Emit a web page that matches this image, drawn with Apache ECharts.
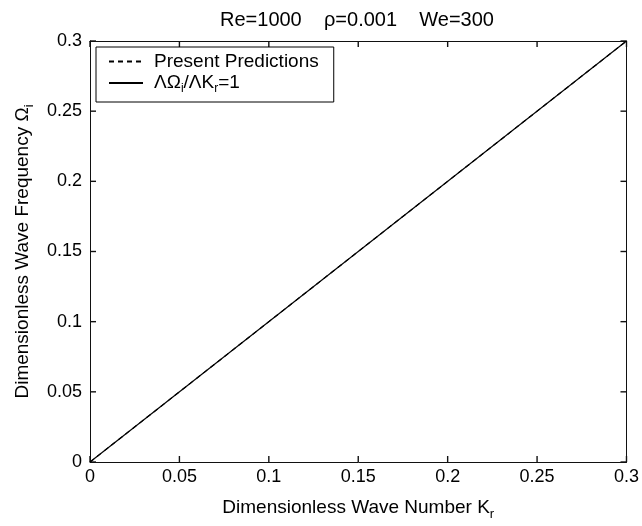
<!DOCTYPE html>
<html>
<head>
<meta charset="UTF-8">
<script src="https://cdn.jsdelivr.net/npm/echarts@6.0.0/dist/echarts.min.js"></script>
<style>
  html, body { margin: 0; padding: 0; background: #fff; }
  #main { width: 642px; height: 526px; }
</style>
</head>
<body>
<div id="main"></div>
<script>
// data
var waveNumber = [0, 0.3];
var predicted = [0, 0.3];      // Present Predictions
var unitSlope = [0, 0.3];      // dOmega/dK = 1
var tickValues = [0, 0.05, 0.1, 0.15, 0.2, 0.25, 0.3];

var FONT = 'Liberation Sans';
var TICK_LEN = 6;

function pairs(xs, ys) {
    return xs.map(function (x, i) { return [x, ys[i]]; });
}

var chart = echarts.init(document.getElementById('main'));

function makeAxis(extra) {
    var ax = {
        type: 'value',
        min: 0, max: 0.3, interval: 0.05,
        axisLine: { show: true, onZero: false, lineStyle: { color: '#111', width: 1 } },
        axisTick: { show: false },
        splitLine: { show: false },
        axisLabel: { color: '#000', fontFamily: FONT, fontSize: 18,
            formatter: function (v) { return String(+v.toFixed(2)); } }
    };
    return Object.assign(ax, extra);
}

var nameRich = {
    a: { fontFamily: FONT, fontSize: 19, color: '#000' },
    s: { fontFamily: FONT, fontSize: 13, color: '#000', padding: [14, 0, 0, 0] }
};

// inward ticks on all four sides of the box, placed through the axes
function renderTicks(params, api) {
    var v = api.value(0);
    var lo = tickValues[0], hi = tickValues[tickValues.length - 1];
    var pB = api.coord([v, lo]), pT = api.coord([v, hi]);
    var pL = api.coord([lo, v]), pR = api.coord([hi, v]);
    var st = { stroke: '#111', lineWidth: 1.4, fill: null };
    return {
        type: 'group',
        children: [
            { type: 'line', shape: { x1: pB[0], y1: pB[1], x2: pB[0], y2: pB[1] - TICK_LEN }, style: st },
            { type: 'line', shape: { x1: pT[0], y1: pT[1], x2: pT[0], y2: pT[1] + TICK_LEN }, style: st },
            { type: 'line', shape: { x1: pL[0], y1: pL[1], x2: pL[0] + TICK_LEN, y2: pL[1] }, style: st },
            { type: 'line', shape: { x1: pR[0], y1: pR[1], x2: pR[0] - TICK_LEN, y2: pR[1] }, style: st }
        ]
    };
}

var option = {
    backgroundColor: '#fff',
    animation: false,
    title: {
        text: 'Re=1000    \u03c1=0.001    We=300',
        left: 357, top: 10, textAlign: 'center', padding: 0,
        textStyle: { color: '#000', fontFamily: FONT, fontSize: 20, fontWeight: 'normal' }
    },
    grid: { left: 90, right: 13, top: 41, bottom: 60 },
    legend: {
        left: 96, top: 47, orient: 'vertical',
        itemWidth: 34, itemHeight: 12, itemGap: 0,
        padding: [5, 15, 7, 12],
        borderColor: '#000', borderWidth: 1, borderRadius: 0,
        backgroundColor: '#fff',
        itemStyle: { opacity: 0 },
        data: ['pred', 'slope'],
        formatter: function (name) {
            if (name === 'pred') return '{f|Present Predictions}';
            return '{f|\u039b\u03a9}{s|i}{a|/\u039bK}{s|r}{a|=1}';
        },
        textStyle: {
            color: '#000', fontFamily: FONT, fontSize: 19,
            rich: {
                f: { fontFamily: FONT, fontSize: 19, color: '#000', lineHeight: 20, padding: [0, 0, 0, 6] },
                a: { fontFamily: FONT, fontSize: 19, color: '#000', lineHeight: 20 },
                s: { fontFamily: FONT, fontSize: 12, color: '#000', lineHeight: 20, padding: [12, 0, 0, 0] }
            }
        }
    },
    xAxis: [
        makeAxis({
            position: 'bottom',
            name: '{a|Dimensionless Wave Number K}{s|r}',
            nameLocation: 'middle', nameGap: 32,
            nameTextStyle: { color: '#000', fontFamily: FONT, fontSize: 19, rich: nameRich }
        }),
        makeAxis({ position: 'top', axisLabel: { show: false } })
    ],
    yAxis: [
        makeAxis({
            position: 'left',
            name: '{a|Dimensionless Wave Frequency \u03a9}{s|i}',
            nameLocation: 'middle', nameGap: 40,
            nameTextStyle: { color: '#000', fontFamily: FONT, fontSize: 19, rich: nameRich }
        }),
        makeAxis({ position: 'right', axisLabel: { show: false } })
    ],
    series: [
        {
            name: 'ticks', type: 'custom', silent: true, clip: false,
            encode: { x: 0, y: 1 },
            data: tickValues.map(function (t) { return [t, t]; }),
            renderItem: renderTicks,
            z: 3
        },
        {
            name: 'slope', type: 'line', symbol: 'none',
            data: pairs(waveNumber, unitSlope),
            itemStyle: { color: '#000' },
            lineStyle: { color: '#000', width: 1.2, type: 'solid' }
        },
        {
            name: 'pred', type: 'line', symbol: 'none',
            data: pairs(waveNumber, predicted),
            itemStyle: { color: '#000' },
            lineStyle: { color: '#000', width: 1.2, type: [5, 4] }
        }
    ]
};

option.xAxis[0].axisLabel.margin = 6;
option.yAxis[0].axisLabel.margin = 8;

chart.setOption(option);
</script>
</body>
</html>
